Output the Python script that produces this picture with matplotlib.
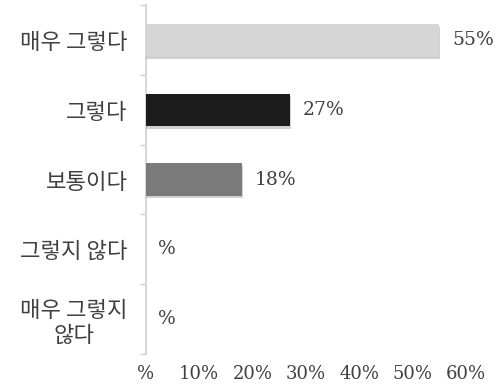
import matplotlib
matplotlib.use("Agg")
import matplotlib.pyplot as plt
import matplotlib.patheffects as pe
import numpy as np

categories = ["매우 그렇다", "그렇다", "보통이다", "그렇지 않다", "매우 그렇지\n않다"]
values = [55, 27, 18, 0, 0]
bar_colors = ["#d6d6d6", "#1c1c1c", "#7a7a7a", "#ffffff", "#ffffff"]
xticks = [0, 10, 20, 30, 40, 50, 60]
xtick_labels = ["%", "10%", "20%", "30%", "40%", "50%", "60%"]

fig = plt.figure(figsize=(5.04, 3.89), dpi=100)
ax = fig.add_axes([0.289, 0.09, 0.636, 0.897])

y = np.arange(len(categories))
bars = ax.barh(y, values, height=0.46, color=bar_colors, zorder=3)
for b, v in zip(bars, values):
    if v > 0:
        b.set_path_effects([pe.withSimplePatchShadow(offset=(0.5, -2), shadow_rgbFace="#999999", alpha=0.45), pe.Normal()])

for yi, v in zip(y, values):
    lab = f"{v}%" if v > 0 else "%"
    ax.text(v + 2.4, yi, lab, va="center", ha="left", fontsize=13.5,
            family="DejaVu Serif", color="#404040")

ax.set_xlim(0, 60)
ax.set_ylim(len(categories) - 0.5, -0.5)
ax.set_xticks(xticks)
ax.set_xticklabels(xtick_labels, family="DejaVu Serif", fontsize=13, color="#404040")
ax.set_yticks(y)
ax.set_yticklabels(categories, family=["Noto Sans CJK KR", "DejaVu Sans"], fontsize=16,
                   fontweight="light", color="#404040", linespacing=1.15,
                   multialignment="center")
ax.set_yticks(np.arange(-0.5, len(categories), 1), minor=True)
ax.tick_params(axis="y", which="major", length=0, pad=13)
ax.tick_params(axis="y", which="minor", length=4, color="#d0d0d0", width=1)
ax.tick_params(axis="x", length=0, pad=8)

for s in ["top", "right", "bottom"]:
    ax.spines[s].set_visible(False)
ax.spines["left"].set_color("#d0d0d0")
ax.spines["left"].set_linewidth(1.2)

fig.savefig("out.png", dpi=100)
